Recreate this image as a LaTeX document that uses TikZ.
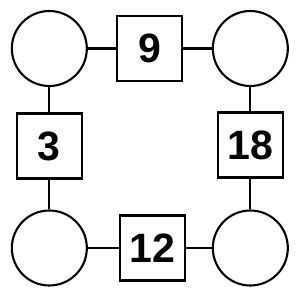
\documentclass[tikz,border=0pt]{standalone}
\usepackage{fontspec}
\setmainfont{Liberation Sans}
\usetikzlibrary{positioning}
\tikzstyle{link} = [line width=1.8pt]
\tikzstyle{ring} = [circle, minimum size=2.25cm, draw=black, line width=1.8pt, inner sep=0pt]
\tikzstyle{numbox} = [rectangle, minimum size=1.95cm, draw=black, line width=1.8pt, inner sep=0pt, font=\fontsize{35}{40}\selectfont\bfseries]

\begin{document}
\begin{tikzpicture}
\useasboundingbox (0,0) rectangle (9,9);

% Corner circles
\node (tl) [ring] at (1.48,7.545) {};
\node (tr) [ring] at (7.51,7.545) {};
\node (bl) [ring] at (1.48,1.56) {};
\node (br) [ring] at (7.51,1.56) {};

% Number boxes
\node (top) [numbox] at (4.485,7.545) {9};
\node (left) [numbox] at (1.48,4.62) {3};
\node (right) [numbox] at (7.51,4.65) {18};
\node (bottom) [numbox] at (4.575,1.56) {12};

% Connections
\draw [link] (tl) -- (top);
\draw [link] (top) -- (tr);
\draw [link] (tl) -- (left);
\draw [link] (left) -- (bl);
\draw [link] (tr) -- (right);
\draw [link] (right) -- (br);
\draw [link] (bl) -- (bottom);
\draw [link] (bottom) -- (br);

\end{tikzpicture}
\end{document}
